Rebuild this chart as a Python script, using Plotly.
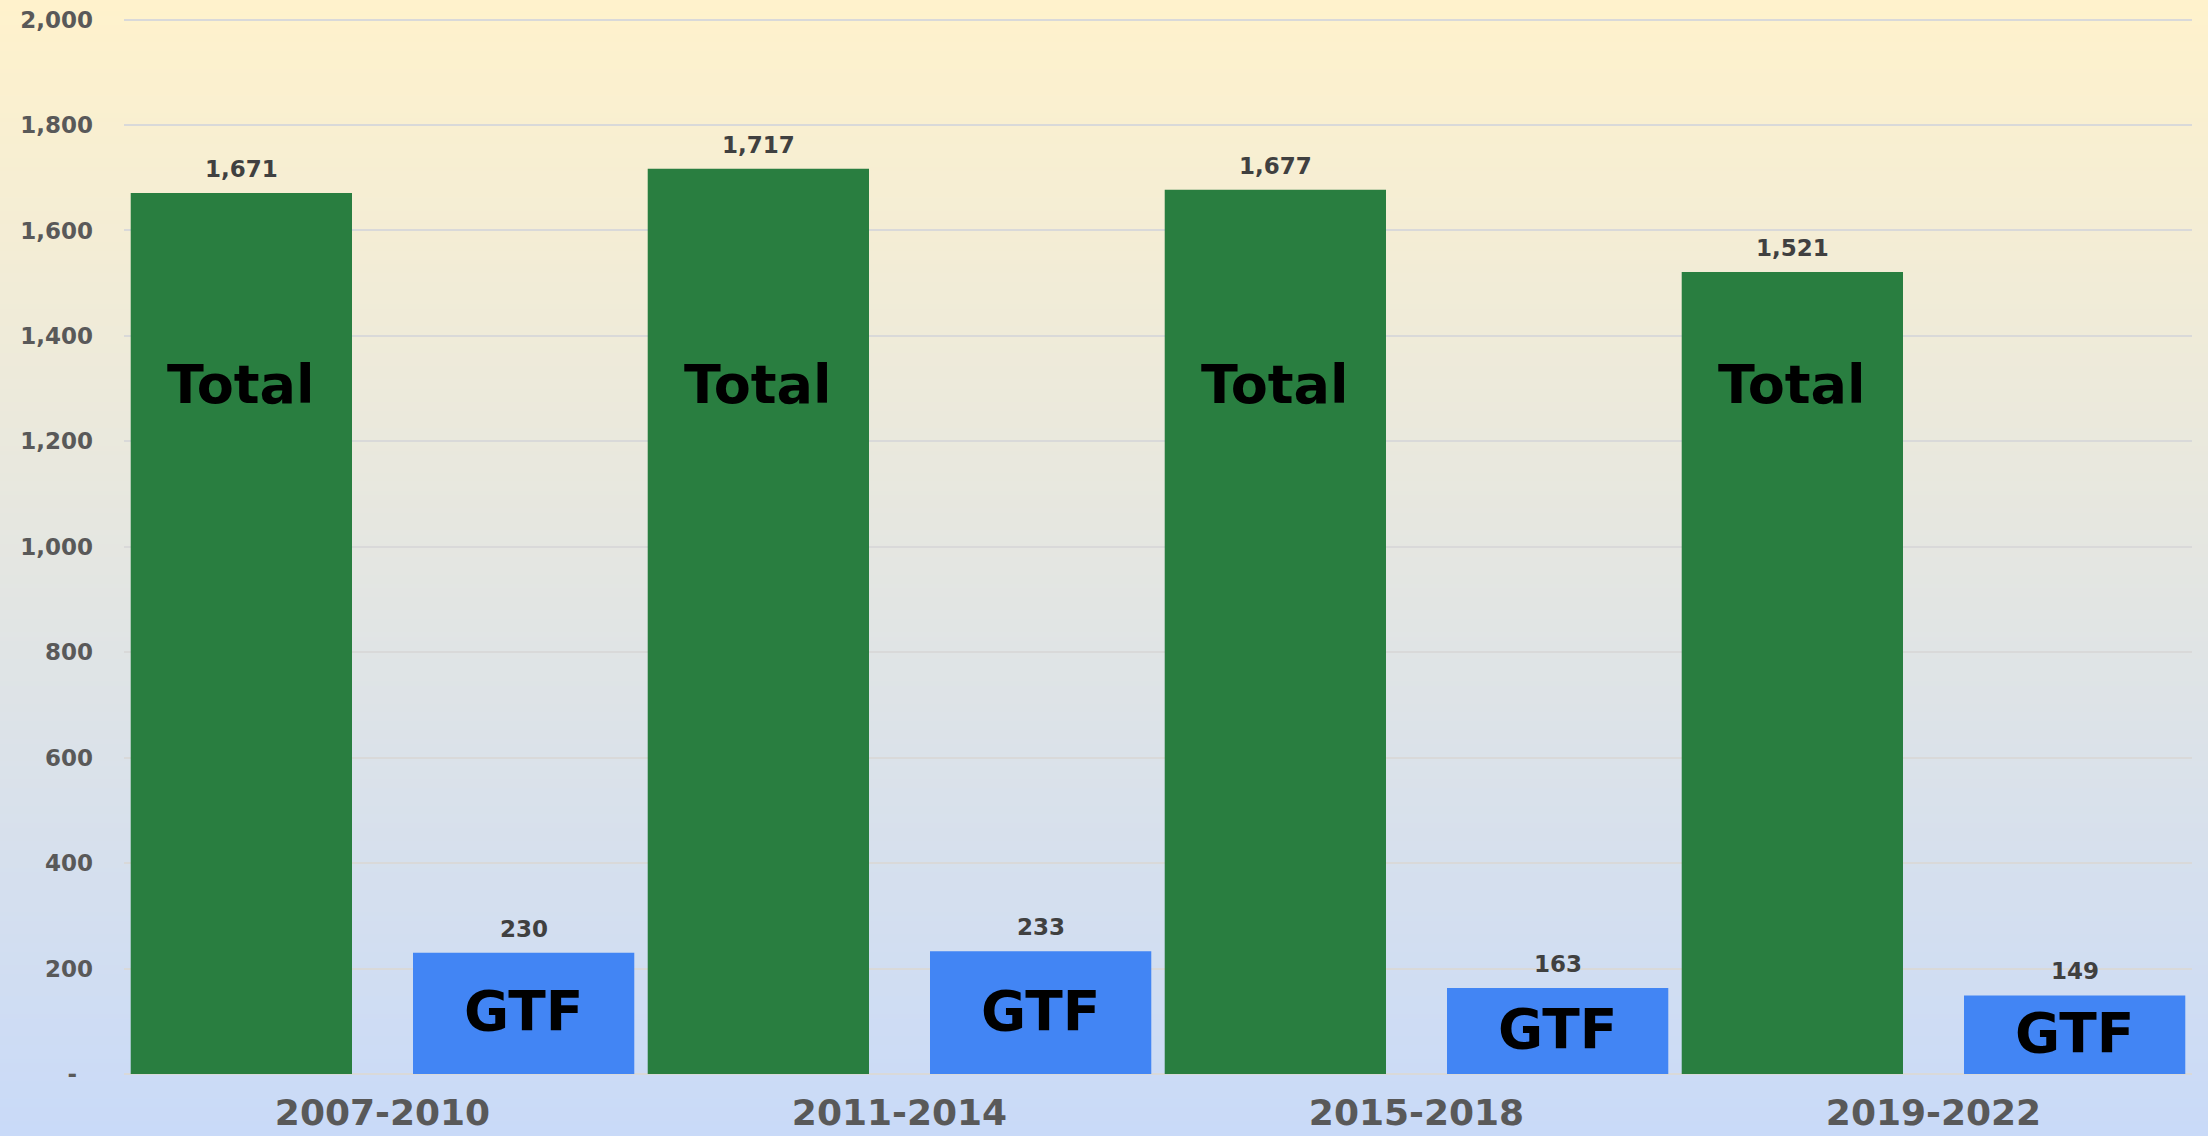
import base64
import struct
import zlib

import plotly.graph_objects as go

# ---------------- data ----------------
periods = ["2007-2010", "2011-2014", "2015-2018", "2019-2022"]
total_values = [1671, 1717, 1677, 1521]
gtf_values = [230, 233, 163, 149]
series_names = ["Total", "GTF"]
y_tick_values = [0, 200, 400, 600, 800, 1000, 1200, 1400, 1600, 1800, 2000]
y_tick_labels = ["-\u00a0\u00a0", "200", "400", "600", "800", "1,000", "1,200",
                 "1,400", "1,600", "1,800", "2,000"]

# ---------------- style ----------------
W, H = 2208, 1136
ML, MR, MT, MB = 124, 16, 18, 62
FONT = "DejaVu Sans"
GREEN = "#297E40"
BLUE = "#4285F4"
BAR_W = 0.428
GREEN_OFF = -0.487
BLUE_OFF = 0.059
TOTAL_LABEL_Y = 1308


def gradient_png(top, bottom, h=256):
    rows = []
    for i in range(h):
        t = i / (h - 1)
        px = bytes(int(round(a + (b - a) * t)) for a, b in zip(top, bottom))
        rows.append(b"\x00" + px)
    raw = b"".join(rows)

    def chunk(tag, data):
        return (struct.pack(">I", len(data)) + tag + data
                + struct.pack(">I", zlib.crc32(tag + data) & 0xFFFFFFFF))

    png = b"\x89PNG\r\n\x1a\n"
    png += chunk(b"IHDR", struct.pack(">IIBBBBB", 1, h, 8, 2, 0, 0, 0))
    png += chunk(b"IDAT", zlib.compress(raw, 9))
    png += chunk(b"IEND", b"")
    return "data:image/png;base64," + base64.b64encode(png).decode()


bg = gradient_png((255, 242, 204), (201, 218, 248))

fig = go.Figure()
fig.add_trace(go.Bar(x=periods, y=total_values, name=series_names[0],
                     marker=dict(color=GREEN, line=dict(width=0)),
                     width=BAR_W, offset=GREEN_OFF, hoverinfo="x+y"))
fig.add_trace(go.Bar(x=periods, y=gtf_values, name=series_names[1],
                     marker=dict(color=BLUE, line=dict(width=0)),
                     width=BAR_W, offset=BLUE_OFF, hoverinfo="x+y"))

value_font = dict(family=FONT, size=23, color="#404040", weight="bold")
annotations = []
g_center = GREEN_OFF + BAR_W / 2
b_center = BLUE_OFF + BAR_W / 2
for i, (tv, gv) in enumerate(zip(total_values, gtf_values)):
    annotations.append(dict(x=i + g_center, y=tv, xref="x", yref="y", text=f"{tv:,}",
                            showarrow=False, yanchor="bottom", yshift=9, font=value_font))
    annotations.append(dict(x=i + b_center, y=gv, xref="x", yref="y", text=f"{gv:,}",
                            showarrow=False, yanchor="bottom", yshift=9, font=value_font))
    annotations.append(dict(x=i + g_center, y=TOTAL_LABEL_Y, xref="x", yref="y",
                            text=series_names[0], showarrow=False,
                            font=dict(family=FONT, size=54, color="#000000", weight="bold")))
    annotations.append(dict(x=i + b_center, y=gv / 2, xref="x", yref="y",
                            text=series_names[1], showarrow=False, yshift=2,
                            font=dict(family=FONT, size=55, color="#000000", weight="bold")))

pw = W - ML - MR
ph = H - MT - MB
fig.update_layout(
    width=W, height=H,
    margin=dict(l=ML, r=MR, t=MT, b=MB, pad=0, autoexpand=False),
    paper_bgcolor="rgba(0,0,0,0)",
    plot_bgcolor="rgba(0,0,0,0)",
    barmode="overlay",
    showlegend=False,
    annotations=annotations,
    images=[dict(source=bg, xref="paper", yref="paper",
                 x=-ML / pw, y=1 + MT / ph, sizex=W / pw, sizey=H / ph,
                 xanchor="left", yanchor="top", sizing="stretch", layer="below")],
    xaxis=dict(type="category", showgrid=False, showline=False, ticks="",
               automargin=False,
               tickfont=dict(family=FONT, size=36, color="#595959", weight="bold"),
               ticklabelstandoff=14, range=[-0.5, 3.5]),
    yaxis=dict(range=[0, 2003], tickvals=y_tick_values, ticktext=y_tick_labels,
               automargin=False,
               showgrid=True, gridcolor="#D9D9D9", gridwidth=2,
               zeroline=True, zerolinecolor="#D9D9D9", zerolinewidth=2,
               showline=False, ticks="", ticklabelstandoff=30,
               tickfont=dict(family=FONT, size=23, color="#595959", weight="bold")),
)

fig.write_html("out.html", config={"displayModeBar": False},
               post_script="document.body.style.margin='0';"
               "document.body.style.overflow='hidden';")
